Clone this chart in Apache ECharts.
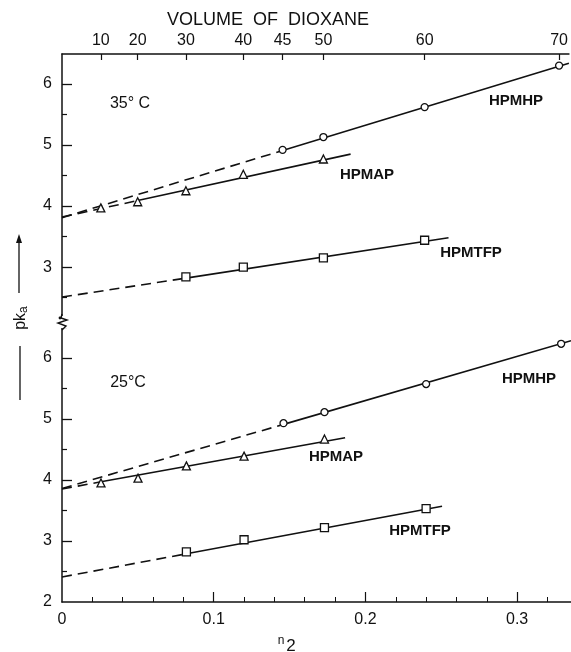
<!DOCTYPE html>
<html>
<head>
<meta charset="utf-8">
<script src="https://cdn.jsdelivr.net/npm/echarts@6/dist/echarts.min.js"></script>
<style>
html,body{margin:0;padding:0;background:#fff;}
#chart{width:571px;height:652px;}
</style>
</head>
<body>
<div id="chart"></div>
<script>
// ---- data ----
const volumeLabels = ['10', '20', '30', '40', '45', '50', '60', '70'];
const volumeN2 = [0.0257, 0.0501, 0.082, 0.120, 0.146, 0.173, 0.240, 0.329];
const xLabels = [0, 0.1, 0.2, 0.3];
const yLabelsTop = [3, 4, 5, 6];
const yLabelsBottom = [2, 3, 4, 5, 6];

// 35 °C
const hpmhp35Vol = [45, 50, 60, 70];
const hpmhp35Pka = [4.92, 5.13, 5.62, 6.30];
const hpmap35Vol = [10, 20, 30, 40, 50];
const hpmap35Pka = [3.97, 4.07, 4.25, 4.52, 4.77];
const hpmtfp35Vol = [30, 40, 50, 60];
const hpmtfp35Pka = [2.84, 3.00, 3.15, 3.44];
const hpmhp35Dash = [[0, 3.81], [0.146, 4.91]];
const hpmhp35Solid = [[0.146, 4.91], [0.3355, 6.34]];
const hpmap35Dash = [[0, 3.82], [0.0501, 4.09]];
const hpmap35Solid = [[0.0501, 4.09], [0.191, 4.85]];
const hpmtfp35Dash = [[0, 2.51], [0.082, 2.82]];
const hpmtfp35Solid = [[0.082, 2.82], [0.2558, 3.48]];

// 25 °C
const hpmhp25Vol = [45, 50, 60, 70];
const hpmhp25Pka = [4.93, 5.11, 5.57, 6.23];
const hpmap25Vol = [10, 20, 30, 40, 50];
const hpmap25Pka = [3.95, 4.03, 4.23, 4.39, 4.67];
const hpmtfp25Vol = [30, 40, 50, 60];
const hpmtfp25Pka = [2.82, 3.02, 3.22, 3.53];
const hpmhp25Dash = [[0, 3.86], [0.146, 4.91]];
const hpmhp25Solid = [[0.146, 4.91], [0.3355, 6.28]];
const hpmap25Dash = [[0, 3.85], [0.0257, 3.97]];
const hpmap25Solid = [[0.0257, 3.97], [0.1866, 4.69]];
const hpmtfp25Dash = [[0, 2.41], [0.082, 2.79]];
const hpmtfp25Solid = [[0.082, 2.79], [0.2505, 3.57]];

// ---- helpers ----
const INK = '#111';
const FONT = '"Liberation Sans", Arial, sans-serif';
function pts(vols, vals) {
  return vols.map((v, i) => [volumeN2[volumeLabels.indexOf(String(v))], vals[i]]);
}
function lineSeries(data, dashed, gi) {
  return {
    type: 'line', data: data, xAxisIndex: gi === 0 ? 0 : 1, yAxisIndex: gi === 0 ? 0 : 2,
    showSymbol: false, symbol: 'none', silent: true, z: 2,
    lineStyle: { color: INK, width: 1.6, type: dashed ? [10, 6] : 'solid' }
  };
}
function pointSeries(data, symbol, size, gi) {
  return {
    type: 'scatter', data: data, xAxisIndex: gi === 0 ? 0 : 1, yAxisIndex: gi === 0 ? 0 : 2,
    symbol: symbol, symbolSize: size, z: 5,
    itemStyle: { color: '#fff', borderColor: INK, borderWidth: 1.3, opacity: 1 }
  };
}
const XMAX = 0.3355;
const minorX = [];
for (let k = 1; k <= 16; k++) { if (k % 5 !== 0) minorX.push(+(k * 0.02).toFixed(2)); }

const chart = echarts.init(document.getElementById('chart'), null, { renderer: 'canvas' });
const axisLineStyle = { show: true, lineStyle: { color: INK, width: 1.5 } };

chart.setOption({
  animation: false,
  backgroundColor: '#fff',
  grid: [
    { left: 62, top: 54, width: 509, height: 265 },
    { left: 62, top: 320, width: 509, height: 282 }
  ],
  xAxis: [
    { type: 'value', gridIndex: 0, position: 'top', min: 0, max: XMAX,
      axisLine: axisLineStyle, splitLine: { show: false },
      axisTick: { show: true, inside: true, length: 6, customValues: volumeN2, lineStyle: { color: INK, width: 1.2 } },
      axisLabel: { customValues: volumeN2, margin: 5, color: INK, fontSize: 16, fontFamily: FONT,
        formatter: function (v) { const i = volumeN2.findIndex(x => Math.abs(x - v) < 1e-6); return i >= 0 ? volumeLabels[i] : ''; } } },
    { type: 'value', gridIndex: 1, position: 'bottom', min: 0, max: XMAX,
      axisLine: axisLineStyle, splitLine: { show: false },
      axisTick: { show: true, inside: true, length: 10, customValues: [0.1, 0.2, 0.3], lineStyle: { color: INK, width: 1.2 } },
      axisLabel: { customValues: xLabels, margin: 10, color: INK, fontSize: 16, fontFamily: FONT,
        formatter: function (v) { return v === 0 ? '0' : v.toFixed(1); } } },
    { type: 'value', gridIndex: 1, position: 'bottom', offset: 0, min: 0, max: XMAX,
      axisLine: { show: false }, splitLine: { show: false }, axisLabel: { show: false },
      axisTick: { show: true, inside: true, length: 5, customValues: minorX, lineStyle: { color: INK, width: 1 } } }
  ],
  yAxis: [
    { type: 'value', gridIndex: 0, position: 'left', min: 2.15, max: 6.49,
      axisLine: axisLineStyle, splitLine: { show: false },
      axisTick: { show: true, inside: true, length: 10, customValues: yLabelsTop, lineStyle: { color: INK, width: 1.3 } },
      axisLabel: { customValues: yLabelsTop, margin: 10, color: INK, fontSize: 16, fontFamily: FONT } },
    { type: 'value', gridIndex: 0, position: 'left', offset: 0, min: 2.15, max: 6.49,
      axisLine: { show: false }, splitLine: { show: false }, axisLabel: { show: false },
      axisTick: { show: true, inside: true, length: 5, customValues: [2.5, 3.5, 4.5, 5.5], lineStyle: { color: INK, width: 1.2 } } },
    { type: 'value', gridIndex: 1, position: 'left', min: 2, max: 6.62,
      axisLine: axisLineStyle, splitLine: { show: false },
      axisTick: { show: true, inside: true, length: 10, customValues: [3, 4, 5, 6], lineStyle: { color: INK, width: 1.3 } },
      axisLabel: { customValues: yLabelsBottom, margin: 10, color: INK, fontSize: 16, fontFamily: FONT } },
    { type: 'value', gridIndex: 1, position: 'left', offset: 0, min: 2, max: 6.62,
      axisLine: { show: false }, splitLine: { show: false }, axisLabel: { show: false },
      axisTick: { show: true, inside: true, length: 5, customValues: [2.5, 3.5, 4.5, 5.5, 6.5], lineStyle: { color: INK, width: 1.2 } } }
  ],
  series: [
    lineSeries(hpmhp35Dash, true, 0), lineSeries(hpmhp35Solid, false, 0),
    lineSeries(hpmap35Dash, true, 0), lineSeries(hpmap35Solid, false, 0),
    lineSeries(hpmtfp35Dash, true, 0), lineSeries(hpmtfp35Solid, false, 0),
    pointSeries(pts(hpmhp35Vol, hpmhp35Pka), 'circle', 7, 0),
    pointSeries(pts(hpmap35Vol, hpmap35Pka), 'triangle', 8, 0),
    pointSeries(pts(hpmtfp35Vol, hpmtfp35Pka), 'rect', 8, 0),
    lineSeries(hpmhp25Dash, true, 1), lineSeries(hpmhp25Solid, false, 1),
    lineSeries(hpmap25Dash, true, 1), lineSeries(hpmap25Solid, false, 1),
    lineSeries(hpmtfp25Dash, true, 1), lineSeries(hpmtfp25Solid, false, 1),
    pointSeries(pts(hpmhp25Vol, hpmhp25Pka), 'circle', 7, 1),
    pointSeries(pts(hpmap25Vol, hpmap25Pka), 'triangle', 8, 1),
    pointSeries(pts(hpmtfp25Vol, hpmtfp25Pka), 'rect', 8, 1)
  ],
  graphic: [
    { type: 'text', left: 167, top: 11, style: { text: 'VOLUME  OF  DIOXANE', fill: INK, font: '18px ' + FONT } },
    { type: 'text', x: 130, y: 104, style: { text: '35° C', fill: INK, font: '16px ' + FONT, align: 'center', verticalAlign: 'middle' } },
    { type: 'text', x: 128, y: 383, style: { text: '25°C', fill: INK, font: '16px ' + FONT, align: 'center', verticalAlign: 'middle' } },
    { type: 'text', x: 516, y: 101, style: { text: 'HPMHP', fill: INK, font: 'bold 15px ' + FONT, align: 'center', verticalAlign: 'middle' } },
    { type: 'text', x: 367, y: 175, style: { text: 'HPMAP', fill: INK, font: 'bold 15px ' + FONT, align: 'center', verticalAlign: 'middle' } },
    { type: 'text', x: 471, y: 253, style: { text: 'HPMTFP', fill: INK, font: 'bold 15px ' + FONT, align: 'center', verticalAlign: 'middle' } },
    { type: 'text', x: 529, y: 379, style: { text: 'HPMHP', fill: INK, font: 'bold 15px ' + FONT, align: 'center', verticalAlign: 'middle' } },
    { type: 'text', x: 336, y: 457, style: { text: 'HPMAP', fill: INK, font: 'bold 15px ' + FONT, align: 'center', verticalAlign: 'middle' } },
    { type: 'text', x: 420, y: 531, style: { text: 'HPMTFP', fill: INK, font: 'bold 15px ' + FONT, align: 'center', verticalAlign: 'middle' } },
    // n2 axis title
    { type: 'text', x: 281, y: 641, style: { text: 'n', fill: INK, font: '12px ' + FONT, align: 'center', verticalAlign: 'middle' } },
    { type: 'text', x: 291, y: 646, style: { text: '2', fill: INK, font: '17px ' + FONT, align: 'center', verticalAlign: 'middle' } },
    // y axis title with arrow
    { type: 'text', x: 21, y: 318, rotation: Math.PI / 2,
      style: { text: 'pk{a|a}', fill: INK, font: '16px ' + FONT, align: 'center', verticalAlign: 'middle',
        rich: { a: { fontSize: 12, fill: INK, fontFamily: FONT, padding: [6, 0, 0, 0] } } } },
    { type: 'line', shape: { x1: 20, y1: 346, x2: 20, y2: 400 }, style: { stroke: INK, lineWidth: 1.3 } },
    { type: 'line', shape: { x1: 19, y1: 293, x2: 19, y2: 240 }, style: { stroke: INK, lineWidth: 1.3 } },
    { type: 'polygon', shape: { points: [[19, 234], [16, 243], [22, 243]] }, style: { fill: INK } },
    // axis break mark
    { type: 'rect', shape: { x: 56, y: 316, width: 12, height: 12 }, style: { fill: '#fff' }, z: 10 },
    { type: 'polyline', shape: { points: [[62, 314], [61, 318], [67, 320], [58, 323], [66, 326], [62, 330]] },
      style: { stroke: INK, lineWidth: 1.4, fill: null }, z: 11 },
    { type: 'circle', shape: { cx: 60, cy: 318, r: 1.4 }, style: { fill: INK }, z: 11 }
  ]
});
</script>
</body>
</html>
